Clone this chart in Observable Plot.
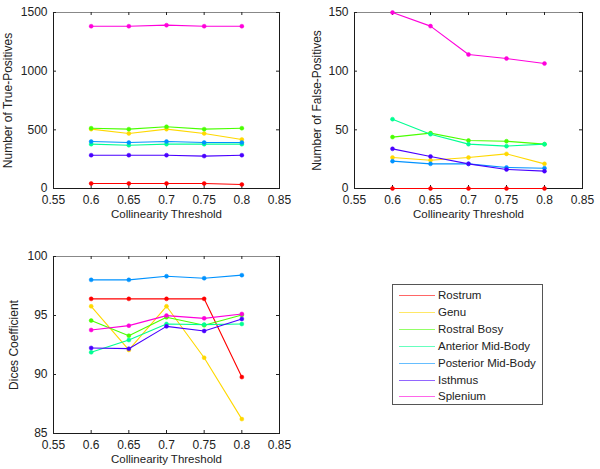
<!DOCTYPE html>
<html>
<head>
<meta charset="utf-8">
<script src="https://cdn.jsdelivr.net/npm/d3@7"></script>
<script src="https://cdn.jsdelivr.net/npm/@observablehq/plot@0.6"></script>
<style>
  html, body { margin: 0; padding: 0; background: white; }
  #root { position: relative; width: 600px; height: 469px; overflow: hidden; font-family: "Liberation Sans", Arial, sans-serif; }
  .panel { position: absolute; }
  #legend { position: absolute; left: 392px; top: 284px; width: 149px; height: 119px; border: 1px solid #555; background: white; box-sizing: content-box; }
  .row { position: absolute; left: 0; height: 16px; font-size: 11.5px; color: #222; white-space: nowrap; }
  .row span.sw { position: absolute; left: 6px; top: 8px; width: 36px; height: 0; border-top: 1px solid; }
  .row span.lab { position: absolute; left: 45px; top: 0; line-height: 16px; }
</style>
</head>
<body>
<div id="root"></div>
<script>
// ---- data ----
const thresholds = [0.6, 0.65, 0.7, 0.75, 0.8];
const regions = ["Rostrum", "Genu", "Rostral Bosy", "Anterior Mid-Body", "Posterior Mid-Body", "Isthmus", "Splenium"];
const colors = ["#FF0000", "#FFD800", "#49FF00", "#00FF92", "#0092FF", "#4900FF", "#FF00DB"];
const xTicks = [0.55, 0.6, 0.65, 0.7, 0.75, 0.8, 0.85];

// rows follow the order of `regions`
const truePositives = [
  [43, 43, 43, 43, 34],
  [506, 469, 506, 469, 418],
  [514, 506, 526, 506, 514],
  [378, 369, 378, 378, 378],
  [400, 392, 400, 392, 392],
  [284, 284, 284, 276, 284],
  [1383, 1383, 1392, 1383, 1383]
];
const falsePositives = [
  [0, 0, 0, 0, 0],
  [26.4, 24.1, 26.4, 29.5, 21],
  [43.8, 47.2, 40.9, 40.3, 37.8],
  [59.1, 46.3, 37.8, 36.1, 37.8],
  [23.3, 21, 21, 17.9, 17.3],
  [33.8, 27.3, 21, 16.2, 14.8],
  [150, 138.4, 114.2, 110.8, 106.5]
];
const dices = [
  [96.41, 96.41, 96.41, 96.41, 89.78],
  [95.78, 92.08, 95.78, 91.42, 86.22],
  [94.57, 93.29, 94.85, 94.17, 95.05],
  [91.88, 92.92, 94.28, 94.23, 94.28],
  [98.02, 98.02, 98.33, 98.16, 98.42],
  [92.25, 92.19, 94.08, 93.69, 94.71],
  [93.77, 94.14, 94.99, 94.76, 95.13]
];
const tpTicks = [0, 500, 1000, 1500];
const fpTicks = [0, 50, 100, 150];
const dcTicks = [85, 90, 95, 100];
const xLabel = "Collinearity Threshold";

function panel(o) {
  const data = regions.flatMap((r, i) => thresholds.map((t, j) => ({region: r, x: t, y: o.values[i][j]})));
  const plotW = o.width - o.ml - o.mr;
  const plotH = o.height - o.mt - o.mb;
  const tk = 3;
  return Plot.plot({
    width: o.width, height: o.height,
    marginLeft: o.ml, marginRight: o.mr, marginTop: o.mt, marginBottom: o.mb,
    x: {domain: [0.55, 0.85], ticks: xTicks},
    y: {domain: o.domain, ticks: o.yTicks},
    color: {domain: regions, range: colors},
    style: {fontFamily: "Liberation Sans, Arial, sans-serif", fontSize: "11.5px", color: "#222", background: "white", overflow: "visible"},
    marks: [
      Plot.frame({stroke: "#1a1a1a", strokeWidth: 1}),
      Plot.frame({anchor: "top", stroke: "#888", strokeWidth: 1.2}),
      Plot.tickX(xTicks, {x: d => d, insetTop: plotH - tk, stroke: "#222"}),
      Plot.tickX(xTicks, {x: d => d, insetBottom: plotH - tk, stroke: "#222"}),
      Plot.tickY(o.yTicks, {y: d => d, insetRight: plotW - tk, stroke: "#222"}),
      Plot.tickY(o.yTicks, {y: d => d, insetLeft: plotW - tk, stroke: "#222"}),
      Plot.axisX(xTicks, {anchor: "bottom", tickSize: 0, tickPadding: 7, tickFormat: d => String(d), label: null, fontSize: 12}),
      Plot.axisY(o.yTicks, {anchor: "left", tickSize: 0, tickPadding: 6, tickFormat: d => String(d), label: null, fontSize: 12}),
      Plot.line(data, {x: "x", y: "y", z: "region", stroke: "region", strokeWidth: 1.1}),
      Plot.dot(data, {x: "x", y: "y", fill: "region", r: 2, stroke: "region", strokeWidth: 0.5}),
      Plot.text([xLabel], {text: d => d, frameAnchor: "bottom", textAnchor: "middle", lineAnchor: "middle", dy: o.xlabDy, fontSize: 11.5, fill: "#222"}),
      Plot.text([o.yLabel], {text: d => d, frameAnchor: "left", textAnchor: "middle", lineAnchor: "middle", rotate: -90, dx: o.ylabDx, fontSize: 12, fill: "#222"})
    ]
  });
}

const root = document.getElementById("root");
function place(svg, left, top) {
  const d = document.createElement("div");
  d.className = "panel";
  d.style.left = left + "px";
  d.style.top = top + "px";
  d.appendChild(svg);
  root.appendChild(d);
}

place(panel({values: truePositives, domain: [0, 1500], yTicks: tpTicks, yLabel: "Number of True-Positives",
  width: 300, height: 230, ml: 53, mr: 21, mt: 12, mb: 42, xlabDy: 26, ylabDx: -45}), 0, 0);
place(panel({values: falsePositives, domain: [0, 150], yTicks: fpTicks, yLabel: "Number of False-Positives",
  width: 300, height: 230, ml: 54, mr: 18, mt: 12, mb: 42, xlabDy: 26, ylabDx: -37}), 300, 0);
place(panel({values: dices, domain: [85, 100], yTicks: dcTicks, yLabel: "Dices Coefficient",
  width: 300, height: 239, ml: 53, mr: 21, mt: 26, mb: 36, xlabDy: 26, ylabDx: -39}), 0, 230);

// legend
const legend = document.createElement("div");
legend.id = "legend";
regions.forEach((r, i) => {
  const row = document.createElement("div");
  row.className = "row";
  row.style.top = (2 + i * 16.9) + "px";
  const sw = document.createElement("span");
  sw.className = "sw";
  sw.style.borderTopColor = colors[i];
  sw.style.opacity = 0.6;
  const lab = document.createElement("span");
  lab.className = "lab";
  lab.textContent = r;
  row.appendChild(sw);
  row.appendChild(lab);
  legend.appendChild(row);
});
root.appendChild(legend);
</script>
</body>
</html>
